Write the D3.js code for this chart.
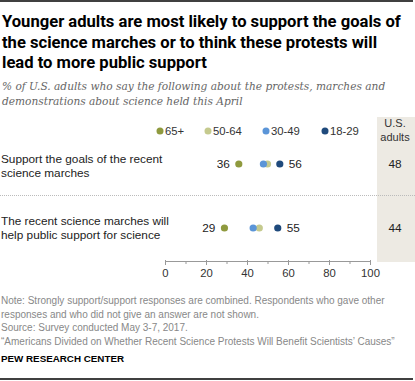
<!DOCTYPE html>
<html><head><meta charset="utf-8">
<script src="https://cdn.jsdelivr.net/npm/d3@7"></script>
<style>body{margin:0;background:#fff}svg{display:block}</style>
</head><body>
<script>
const titleLines = ["Younger adults are most likely to support the goals of","the science marches or to think these protests will","lead to more public support"];
const subtitleLines = ["% of U.S. adults who say the following about the protests, marches and","demonstrations about science held this April"];
const categories = [["Support the goals of the recent","science marches"],["The recent science marches will","help public support for science"]];
const seriesNames = ["65+","50-64","30-49","18-29"];
const seriesColors = ["#8f9a3e","#c5ca8e","#5b95d8","#1f4a7c"];
const values = {"65+":[36,29],"50-64":[50,46],"30-49":[48,43],"18-29":[56,55]};
const usAdults = [48,44];
const xTicks = [0,20,40,60,80,100];
const minorTicks = [10,30,50,70,90];
const noteLines = ["Note: Strongly support/support responses are combined. Respondents who gave other","responses and who did not give an answer are not shown.","Source: Survey conducted May 3-7, 2017.","\u201cAmericans Divided on Whether Recent Science Protests Will Benefit Scientists\u2019 Causes\u201d"];

const W=415,H=381;
const svg=d3.select("body").append("svg").attr("width",W).attr("height",H);
const sans="'Liberation Sans', Arial, sans-serif";

svg.append("line").attr("x1",0).attr("x2",413).attr("y1",1).attr("y2",1).attr("stroke","#000").attr("stroke-width",1.5);
svg.append("line").attr("x1",0).attr("x2",413).attr("y1",379).attr("y2",379).attr("stroke","#000").attr("stroke-width",1.5);

svg.selectAll(".title").data(titleLines).join("text").attr("x",2).attr("y",(d,i)=>27+i*20.5)
 .text(d=>d).attr("font-family","Roboto, sans-serif").attr("font-weight","bold").attr("font-size",16.6).attr("fill","#000");
svg.selectAll(".sub").data(subtitleLines).join("text").attr("x",2).attr("y",(d,i)=>90+i*14.5)
 .text(d=>d).attr("font-family","'DejaVu Serif', Georgia, serif").attr("font-style","italic").attr("font-size",10.6).attr("fill","#666");

const x=d3.scaleLinear().domain([0,100]).range([165,370]);
const rowY=d3.scalePoint().domain(d3.range(categories.length)).range([164,228]);

// US adults column
svg.append("rect").attr("x",377).attr("y",117).attr("width",38).attr("height",145).attr("fill","#edeae3");
svg.append("text").attr("x",395).attr("y",127).attr("text-anchor","middle").text("U.S.").attr("font-family",sans).attr("font-size",11).attr("fill","#333");
svg.append("text").attr("x",395).attr("y",141).attr("text-anchor","middle").text("adults").attr("font-family",sans).attr("font-size",11).attr("fill","#333");

// separator
svg.append("line").attr("x1",0).attr("x2",415).attr("y1",195.5).attr("y2",195.5).attr("stroke","#bbb").attr("stroke-dasharray","1,1");

// legend
const legX=[160,208,266,325];
seriesNames.forEach((s,i)=>{
  svg.append("circle").attr("cx",legX[i]).attr("cy",131).attr("r",3.5).attr("fill",seriesColors[i]);
  svg.append("text").attr("x",legX[i]+5).attr("y",135).text(s).attr("font-family",sans).attr("font-size",11.3).attr("fill","#333");
});

// row labels
categories.forEach((c,i)=>{
  c.forEach((l,j)=>svg.append("text").attr("x",1).attr("y",rowY(i)-1-2*i+j*14).text(l).attr("font-family",sans).attr("font-size",11.8).attr("fill","#222"));
});

// dots
seriesNames.forEach((s,si)=>{
  svg.selectAll(".d"+si).data(values[s]).join("circle").attr("cx",d=>x(d)).attr("cy",(d,i)=>rowY(i)).attr("r",3.6).attr("fill",seriesColors[si]);
});
// labels
svg.selectAll(".lo").data(values["65+"]).join("text").attr("x",d=>x(d)-9).attr("y",(d,i)=>rowY(i)+4).attr("text-anchor","end").text(d=>d).attr("font-family",sans).attr("font-size",11.8).attr("fill","#222");
svg.selectAll(".hi").data(values["18-29"]).join("text").attr("x",d=>x(d)+9).attr("y",(d,i)=>rowY(i)+4).text(d=>d).attr("font-family",sans).attr("font-size",11.8).attr("fill","#222");
svg.selectAll(".us").data(usAdults).join("text").attr("x",395).attr("y",(d,i)=>rowY(i)+4).attr("text-anchor","middle").text(d=>d).attr("font-family",sans).attr("font-size",11.8).attr("fill","#222");

// axis
const ax=svg.append("g").attr("transform","translate(0,261)");
ax.call(d3.axisBottom(x).tickValues(xTicks).tickSize(4).tickPadding(4));
ax.select(".domain").attr("stroke","#999").attr("d","M165.5,0.5H370.5");
ax.selectAll(".tick line").attr("stroke","#999").attr("y1",-1);
ax.selectAll(".tick text").attr("font-family",sans).attr("font-size",11.3).attr("fill","#333");
ax.selectAll(".minor").data(minorTicks).join("line").attr("x1",d=>x(d)+0.5).attr("x2",d=>x(d)+0.5).attr("y1",0).attr("y2",3).attr("stroke","#999");

// notes
svg.selectAll(".note").data(noteLines).join("text").attr("x",1).attr("y",(d,i)=>304+i*13.7).text(d=>d).attr("font-family",sans).attr("font-size",10).attr("fill","#888");
svg.append("text").attr("x",1).attr("y",362).text("PEW RESEARCH CENTER").attr("font-family",sans).attr("font-weight","bold").attr("font-size",9.8).attr("fill","#000");
</script>
</body></html>
